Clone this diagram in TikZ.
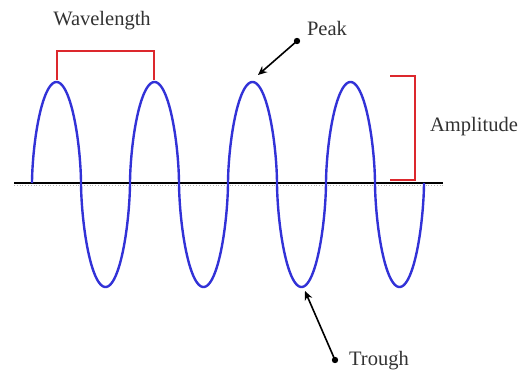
\documentclass[tikz,border=0pt]{standalone}
\usepackage{fontspec}
\setmainfont{Liberation Serif}
\usetikzlibrary{arrows.meta}
\definecolor{wave}{RGB}{50,50,215}
\definecolor{brk}{RGB}{220,40,45}
\definecolor{txt}{RGB}{50,50,50}
\begin{document}
\begin{tikzpicture}[x=1pt,y=-1pt,
  lbl/.style={text=txt,font=\fontsize{20.5}{23}\selectfont,inner sep=0pt},
  bracket/.style={draw=brk,line width=2pt},
  pointer/.style={draw=black,line width=1.6pt,-{Stealth[length=9pt,width=8pt]}},
  dotmark/.style={fill=black}]
\useasboundingbox (0,0) rectangle (523,372);
% axis
\draw[gray!60,line width=0.8pt,dotted] (14,185) -- (443,185);
\draw[black,line width=1.6pt] (14,183) -- (443,183);
% wave
\draw[wave,line width=2.4pt,line join=round]
  plot[variable=\t,domain=0:1440,samples=481]
  ({32+49*floor(\t/180)+24.5*(1-cos(\t-180*floor(\t/180)))},
   {183-pow(-1,floor(\t/180))*(102.5-1.5*pow(-1,floor(\t/180)))*pow(max(abs(sin(\t)),0.0001),1.2)});
% wavelength bracket
\draw[bracket] (57,80) -- (57,51) -- (154,51) -- (154,80);
% amplitude bracket
\draw[bracket] (390,76) -- (415,76) -- (415,180) -- (390,180);
% labels
\node[lbl] (wl) at (102,21) {Wavelength};
\node[lbl] (peak) at (327,28) {Peak};
\node[lbl] (amp) at (474,127) {Amplitude};
\node[lbl] (trough) at (379,361) {Trough};
% pointers
\coordinate (pdot) at (297,41);
\coordinate (ptip) at (258,75);
\coordinate (tdot) at (335,360);
\coordinate (ttip) at (305,291);
\fill[dotmark] (pdot) circle (3.2);
\fill[dotmark] (tdot) circle (3.2);
\draw[pointer] (pdot) -- (ptip);
\draw[pointer] (tdot) -- (ttip);
\end{tikzpicture}
\end{document}
